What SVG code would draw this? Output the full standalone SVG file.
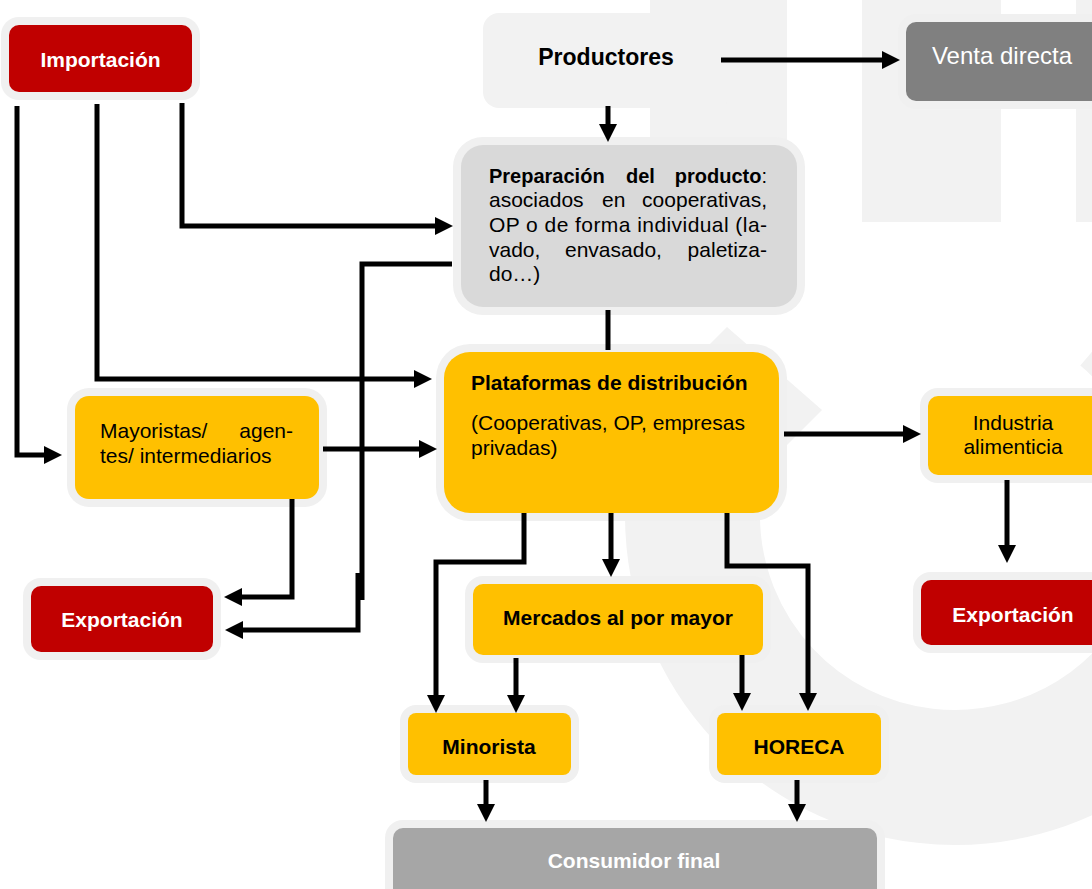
<svg xmlns="http://www.w3.org/2000/svg" width="1092" height="889" viewBox="0 0 1092 889">
<style>
.t{font-family:"Liberation Sans",Arial,sans-serif;font-size:21px;fill:#000}
.b{font-weight:bold}
.w{fill:#fff}
.halo{fill:#f0f0f0}
.wm{fill:#f2f2f2}
.y{fill:#ffc000}
.r{fill:#c00000}
.c{fill:none;stroke:#000;stroke-width:5}
</style>
<defs>
<marker id="ah" markerUnits="userSpaceOnUse" markerWidth="18" markerHeight="18" refX="8" refY="9" orient="auto">
<path d="M0,0 L18,9 L0,18 z" fill="#000"/>
</marker>
</defs>
<rect width="1092" height="889" fill="#fff"/>
<g id="watermark">
<rect class="wm" x="650" y="0" width="137" height="150"/>
<rect class="wm" x="862" y="0" width="139" height="222"/>
<rect class="wm" x="1076" y="0" width="30" height="222"/>
<path d="M708.3,425.2 A262.5,262.5 0 1 0 1123.7,313.9" fill="none" stroke="#f2f2f2" stroke-width="135"/>
<polygon class="wm" points="690,364 727,327 822,410 787,445 700,445"/>
</g>
<g id="importacion">
<rect class="halo" x="1" y="17" width="199" height="83" rx="18"/>
<rect class="r" x="9" y="25" width="183" height="67" rx="10"/>
<text class="t b w" x="100.5" y="67" text-anchor="middle">Importación</text>
</g>
<g id="productores">
<rect x="483" y="13" width="248" height="95" rx="16" fill="#f2f2f2"/>
<text class="t b" x="606" y="65" text-anchor="middle" style="font-size:23px">Productores</text>
</g>
<g id="venta-directa">
<rect class="halo" x="898" y="14" width="216" height="95" rx="18"/>
<rect x="906" y="22" width="200" height="79" rx="10" fill="#808080"/>
<text class="t w" x="1002" y="64" text-anchor="middle" style="font-size:24px">Venta directa</text>
</g>
<g id="preparacion">
<rect class="halo" x="453" y="137" width="352" height="178" rx="30"/>
<rect x="461" y="145" width="336" height="162" rx="22" fill="#d9d9d9"/>
<text class="t b" x="489" y="183" style="font-size:20px">Preparación</text>
<text class="t b" x="626" y="183" style="font-size:20px">del</text>
<text class="t" x="767" y="183" text-anchor="end" style="font-size:20px"><tspan font-weight="bold">producto</tspan>:</text>
<text class="t" x="489" y="207">asociados</text>
<text class="t" x="602" y="207">en</text>
<text class="t" x="767" y="207" text-anchor="end">cooperativas,</text>
<text class="t" x="489" y="232" textLength="278" lengthAdjust="spacing">OP o de forma individual (la-</text>
<text class="t" x="489" y="257">vado,</text>
<text class="t" x="565" y="257">envasado,</text>
<text class="t" x="767" y="257" text-anchor="end">paletiza-</text>
<text class="t" x="489" y="281">do…)</text>
</g>
<g id="plataformas">
<rect class="halo" x="436" y="344" width="351" height="177" rx="34"/>
<rect class="y" x="444" y="352" width="335" height="161" rx="26"/>
<text class="t b" x="471" y="390">Plataformas de distribución</text>
<text class="t" x="471" y="430">(Cooperativas, OP, empresas</text>
<text class="t" x="471" y="455">privadas)</text>
</g>
<g id="mayoristas">
<rect class="halo" x="67" y="388" width="260" height="119" rx="22"/>
<rect class="y" x="75" y="396" width="244" height="103" rx="14"/>
<text class="t" x="100" y="438">Mayoristas/</text>
<text class="t" x="293" y="438" text-anchor="end">agen-</text>
<text class="t" x="100" y="463">tes/ intermediarios</text>
</g>
<g id="exportacion-izq">
<rect class="halo" x="23" y="578" width="198" height="82" rx="18"/>
<rect class="r" x="31" y="586" width="182" height="66" rx="10"/>
<text class="t b w" x="122" y="627" text-anchor="middle">Exportación</text>
</g>
<g id="industria">
<rect class="halo" x="920" y="388" width="196" height="95" rx="18"/>
<rect class="y" x="928" y="396" width="180" height="79" rx="10"/>
<text class="t" x="1013" y="430" text-anchor="middle">Industria</text>
<text class="t" x="1013" y="454" text-anchor="middle">alimenticia</text>
</g>
<g id="exportacion-der">
<rect class="halo" x="913" y="572" width="206" height="81" rx="18"/>
<rect class="r" x="921" y="580" width="190" height="65" rx="10"/>
<text class="t b w" x="1013" y="622" text-anchor="middle">Exportación</text>
</g>
<g id="mercados">
<rect class="halo" x="465" y="576" width="306" height="87" rx="18"/>
<rect class="y" x="473" y="584" width="290" height="71" rx="10"/>
<text class="t b" x="618" y="625" text-anchor="middle">Mercados al por mayor</text>
</g>
<g id="minorista">
<rect class="halo" x="400" y="705" width="179" height="78" rx="16"/>
<rect class="y" x="408" y="713" width="163" height="62" rx="8"/>
<text class="t b" x="489" y="754" text-anchor="middle">Minorista</text>
</g>
<g id="horeca">
<rect class="halo" x="709" y="705" width="180" height="78" rx="16"/>
<rect class="y" x="717" y="713" width="164" height="62" rx="8"/>
<text class="t b" x="799" y="754" text-anchor="middle">HORECA</text>
</g>
<g id="consumidor">
<rect class="halo" x="385" y="820" width="500" height="90" rx="18"/>
<rect x="393" y="828" width="484" height="80" rx="10" fill="#a6a6a6"/>
<text class="t b w" x="634" y="868" text-anchor="middle">Consumidor final</text>
</g>
<g id="connectors">
<path class="c" d="M721,60 H890" marker-end="url(#ah)"/>
<path class="c" d="M608,106 V132" marker-end="url(#ah)"/>
<path class="c" d="M182,103 V226 H443" marker-end="url(#ah)"/>
<path class="c" d="M452,264 H362 V600"/>
<path class="c" d="M358,573 V630 H235" marker-end="url(#ah)"/>
<path class="c" d="M17,106 V455 H52" marker-end="url(#ah)"/>
<path class="c" d="M97,104 V379 H422" marker-end="url(#ah)"/>
<path class="c" d="M323,449 H427" marker-end="url(#ah)"/>
<path class="c" d="M292,499 V597 H234" marker-end="url(#ah)"/>
<path class="c" d="M608,310 V350"/>
<path class="c" d="M784,434 H911" marker-end="url(#ah)"/>
<path class="c" d="M1007,480 V553" marker-end="url(#ah)"/>
<path class="c" d="M611,513 V567" marker-end="url(#ah)"/>
<path class="c" d="M524,513 V562 H436 V703" marker-end="url(#ah)"/>
<path class="c" d="M727,513 V566 H808 V701" marker-end="url(#ah)"/>
<path class="c" d="M516,658 V703" marker-end="url(#ah)"/>
<path class="c" d="M742,655 V701" marker-end="url(#ah)"/>
<path class="c" d="M486,780 V812" marker-end="url(#ah)"/>
<path class="c" d="M797,780 V812" marker-end="url(#ah)"/>
</g>
</svg>
